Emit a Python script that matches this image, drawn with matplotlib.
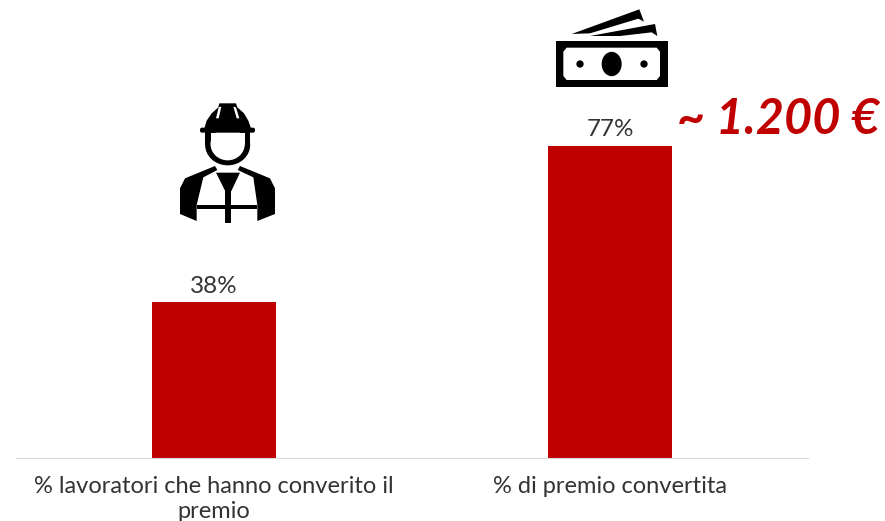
import matplotlib
matplotlib.use("Agg")
import matplotlib.pyplot as plt
from matplotlib.patches import Polygon, Ellipse, Rectangle, FancyBboxPatch

W, H = 885, 521
categories = ["% lavoratori che hanno converito il\npremio", "% di premio convertita"]
values = [38.4, 76.9]
labels = ["38%", "77%"]
RED = "#C00000"
FONT = ["Lato", "DejaVu Sans"]
TXT = "#333333"

fig = plt.figure(figsize=(W / 100, H / 100), dpi=100, facecolor="white")
ax = fig.add_axes([16 / W, 1 - 458 / H, 792 / W, 458 / H])
bars = ax.bar(range(2), values, width=0.315, color=RED)
ax.set_xlim(-0.5, 1.5)
ax.set_ylim(0, 458 / 4.06)
ax.set_yticks([])
ax.set_xticks(range(2))
ax.set_xticklabels(categories, fontsize=17, family=FONT, color=TXT, linespacing=1.24)
ax.tick_params(axis="x", length=0, pad=13)
for s in ["top", "left", "right"]:
    ax.spines[s].set_visible(False)
ax.spines["bottom"].set_color("#D9D9D9")
ax.spines["bottom"].set_linewidth(0.8)
for b, t in zip(bars, labels):
    ax.annotate(t, (b.get_x() + b.get_width() / 2, b.get_height()), xytext=(0, 4),
                textcoords="offset points", ha="center", va="bottom",
                fontsize=17.5, family=FONT, color=TXT)

# Overlay in pixel coordinates for the decorative icons and callout
ov = fig.add_axes([0, 0, 1, 1], facecolor="none")
ov.set_xlim(0, W)
ov.set_ylim(H, 0)
ov.axis("off")
K = "black"

def icon_tools(x0, y0):
    def poly(pts, c=K):
        ov.add_patch(Polygon([(x0 + x / 3, y0 + y / 3) for x, y in pts], closed=True, fc=c, ec="none"))
    def ell(cx, cy, w, h, c=K):
        ov.add_patch(Ellipse((x0 + cx / 3, y0 + cy / 3), w / 3, h / 3, fc=c, ec="none"))
    def rect(x, y, w, h, c=K):
        ov.add_patch(Rectangle((x0 + x / 3, y0 + y / 3), w / 3, h / 3, fc=c, ec="none"))
    return poly, ell, rect

# Worker icon
poly, ell, rect = icon_tools(160, 90)
poly([(60, 295), (75, 265), (165, 228), (172, 240), (130, 262), (110, 345), (110, 393), (60, 372)])
poly([(345, 295), (330, 265), (240, 228), (233, 240), (280, 262), (292, 345), (292, 393), (345, 372)])
poly([(168, 248), (240, 248), (205, 322)])
rect(195, 300, 18, 100)
rect(110, 345, 182, 12)
rect(135, 120, 135, 45)
ell(203, 165, 135, 122)
rect(152, 128, 103, 35, "white")
ell(203, 162, 103, 98, "white")
# Helmet
poly([(133, 115), (140, 92), (155, 70), (175, 52), (178, 40), (228, 40), (232, 52), (252, 70), (265, 92), (273, 115)])
ov.add_patch(FancyBboxPatch((160 + 120 / 3, 90 + 113 / 3), 165 / 3, 15 / 3,
                            boxstyle="round,pad=0,rounding_size=2", fc=K, ec="none"))
poly([(176, 52), (184, 50), (176, 85), (168, 85)], "white")
poly([(228, 52), (220, 50), (230, 85), (238, 85)], "white")

# Banknotes icon
poly, ell, rect = icon_tools(540, 0)
poly([(95, 102), (298, 28), (312, 65), (295, 56), (150, 100)])
poly([(150, 108), (345, 72), (352, 108), (335, 97), (240, 108)])
rect(47, 122, 338, 138)
poly([(80, 143), (350, 143), (360, 155), (360, 228), (350, 240), (80, 240), (70, 228), (70, 155)], "white")
ell(215, 192, 60, 73)
ell(120, 192, 22, 22)
ell(312, 192, 22, 22)

ov.text(778, 120, "~ 1.200 €", ha="center", va="center", fontsize=35, fontweight="bold",
        fontstyle="italic", color=RED, family=FONT)

fig.savefig("out.png", dpi=100)
